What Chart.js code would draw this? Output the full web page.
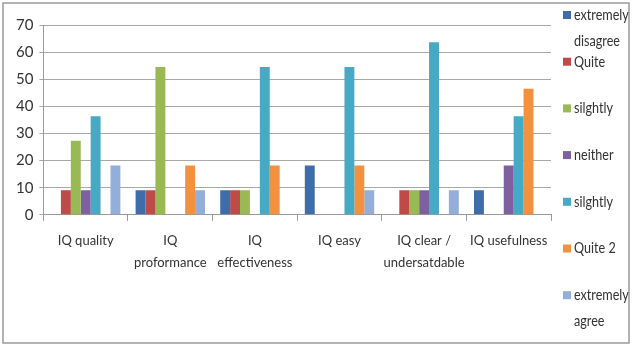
<!DOCTYPE html>
<html>
<head>
<meta charset="utf-8">
<script src="https://cdn.jsdelivr.net/npm/chart.js@4/dist/chart.umd.min.js"></script>
<style>
  html, body { margin: 0; padding: 0; background: #ffffff; }
  #wrap { position: relative; width: 632px; height: 349px; }
</style>
</head>
<body>
<div id="wrap"><canvas id="chart" width="632" height="349"></canvas></div>
<script>
// Survey categories (x axis) and response shares in percent
const categories = [
  'IQ quality',
  ['IQ', 'proformance'],
  ['IQ', 'effectiveness'],
  'IQ easy',
  ['IQ clear /', 'undersatdable'],
  'IQ usefulness'
];
const seriesNames = [
  ['extremely', 'disagree'],
  ['Quite'],
  ['silghtly'],
  ['neither'],
  ['silghtly'],
  ['Quite 2'],
  ['extremely', 'agree']
];
const extremelyDisagree = [0, 9.09, 9.09, 18.18, 0, 9.09];
const quiteDisagree     = [9.09, 9.09, 9.09, 0, 9.09, 0];
const slightlyDisagree  = [27.27, 54.55, 9.09, 0, 9.09, 0];
const neither           = [9.09, 0, 0, 0, 9.09, 18.18];
const slightlyAgree     = [36.36, 0, 54.55, 54.55, 63.64, 36.36];
const quiteAgree        = [0, 18.18, 18.18, 18.18, 0, 46.5];
const extremelyAgree    = [18.18, 9.09, 0, 9.09, 9.09, 0];
const yTicks = [0, 10, 20, 30, 40, 50, 60, 70];

const seriesValues = [extremelyDisagree, quiteDisagree, slightlyDisagree, neither,
                      slightlyAgree, quiteAgree, extremelyAgree];
const colors = ['#3F6DAA', '#BE4B48', '#98B954', '#7D60A0', '#46AAC5', '#F4913F', '#93AFD9'];

const FONT = 'Lato, "DejaVu Sans", sans-serif';

// Frame around the whole chart and the wrapped legend on the right
const framePlugin = {
  id: 'frame',
  beforeDraw(chart) {
    const ctx = chart.ctx;
    ctx.save();
    ctx.fillStyle = '#ffffff';
    ctx.fillRect(0, 0, chart.width, chart.height);
    ctx.strokeStyle = '#9a9a9a';
    ctx.lineWidth = 1.5;
    ctx.strokeRect(3, 3, chart.width - 6, chart.height - 9);
    ctx.restore();
  },
  afterDraw(chart) {
    const ctx = chart.ctx;
    ctx.save();
    ctx.textBaseline = 'middle';
    const x0 = 563, y0 = 15, step = 46.7, lh = 26, squeeze = 0.84;
    seriesNames.forEach((lines, i) => {
      const y = y0 + i * step;
      ctx.fillStyle = colors[i];
      ctx.fillRect(x0, y - 4, 8, 8);
      ctx.fillStyle = '#333333';
      lines.forEach((t, j) => {
        ctx.save();
        ctx.translate(x0 + 11, y + j * lh);
        ctx.scale(squeeze, 1);
        ctx.font = '15px ' + FONT;
        ctx.fillText(t, 0, 0);
        ctx.restore();
      });
    });
    ctx.restore();
  }
};

new Chart(document.getElementById('chart'), {
  type: 'bar',
  data: {
    labels: categories,
    datasets: seriesValues.map((vals, i) => ({
      label: seriesNames[i].join(' '),
      data: vals,
      backgroundColor: colors[i],
      borderWidth: 0,
      barPercentage: 1.0,
      categoryPercentage: 0.82
    }))
  },
  options: {
    responsive: false,
    animation: false,
    layout: { padding: { left: 10, right: 81, top: 25, bottom: 66 } },
    plugins: {
      legend: { display: false },
      tooltip: { enabled: false }
    },
    scales: {
      x: {
        grid: {
          offset: true,
          drawOnChartArea: false,
          color: '#9a9a9a',
          tickLength: 6
        },
        border: { color: '#9a9a9a' },
        ticks: {
          color: '#333333',
          font: { family: FONT, size: 13, lineHeight: 1.7 },
          maxRotation: 0,
          autoSkip: false,
          padding: 9
        }
      },
      y: {
        min: 0,
        max: 70,
        afterBuildTicks(axis) { axis.ticks = yTicks.map(v => ({ value: v })); },
        grid: { color: '#a8a8a8', tickLength: 4 },
        border: { color: '#9a9a9a' },
        ticks: {
          color: '#333333',
          font: { family: FONT, size: 15 },
          padding: 6
        }
      }
    }
  },
  plugins: [framePlugin]
});
</script>
</body>
</html>
